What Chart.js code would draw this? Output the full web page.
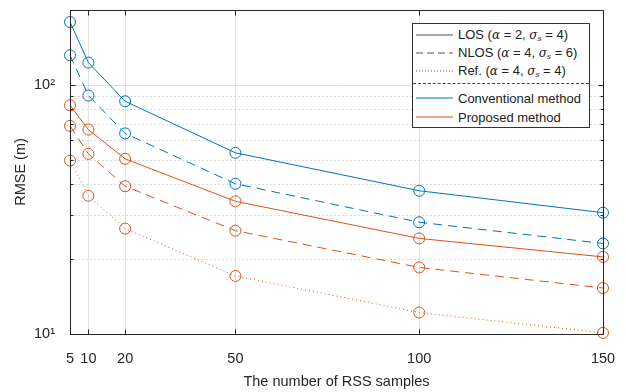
<!DOCTYPE html>
<html>
<head>
<meta charset="utf-8">
<script src="https://cdn.jsdelivr.net/npm/chart.js@4/dist/chart.umd.min.js"></script>
<style>
  html, body { margin:0; padding:0; background:#fff; }
  #wrap { position:relative; width:626px; height:392px; }
  #legend {
    position:absolute; left:412px; top:23px; width:176px; height:103px;
    border:1px solid #333; background:#fff; box-sizing:content-box;
    font-family:"Liberation Sans", Arial, sans-serif; font-size:13px; color:#222;
  }
  .row { position:absolute; left:0; height:18px; display:flex; align-items:center; }
  .row svg { margin-left:3px; margin-right:5px; }
  .divider { position:absolute; left:0; right:0; top:59px; border-top:1px dashed #444; }
  sub { font-size:8px; vertical-align:-2px; }
  i { font-family:"DejaVu Serif", serif; font-size:12px; }
  sub i { font-size:8px; }
</style>
</head>
<body>
<div id="wrap">
  <canvas id="chart" width="626" height="392"></canvas>
  <div id="legend"></div>
</div>
<script>
// ===== DATA =====
const SAMPLES = [5, 10, 20, 50, 100, 150];
const conv_los  = [179, 123, 86, 53.4, 37.6, 30.7];
const conv_nlos = [131.6, 90.7, 63.9, 40.1, 28.1, 23.1];
const prop_los  = [82.9, 66.2, 50.5, 34.1, 24.2, 20.4];
const prop_nlos = [68.5, 52.9, 39.2, 26.0, 18.5, 15.3];
const prop_ref  = [49.7, 35.9, 26.5, 17.1, 12.2, 10.1];

const X_TICKS = [5, 10, 20, 50, 100, 150];
const Y_TICKS = [10, 20, 30, 40, 50, 60, 70, 80, 90, 100, 200];
const Y_LABELS = { 10: '10¹', 100: '10²' };

const BLUE = '#0072BD', ORANGE = '#D95319';
const FONT = '"Liberation Sans", Arial, sans-serif';

function series(vals, color, dash) {
  return {
    data: SAMPLES.map((x, i) => ({ x, y: vals[i] })),
    borderColor: color, borderWidth: 1, borderDash: dash,
    pointStyle: 'circle', pointRadius: 5.5, pointBorderWidth: 1,
    pointBorderColor: color, pointBackgroundColor: 'rgba(0,0,0,0)',
    tension: 0, clip: false, fill: false
  };
}

// grid, box and inside ticks (MATLAB look)
const axesBox = {
  id: 'axesBox',
  beforeDatasetsDraw(chart) {
    const { ctx, chartArea: a, scales: { x, y } } = chart;
    ctx.save();
    ctx.lineWidth = 1;
    ctx.strokeStyle = '#e3e3e3';
    X_TICKS.forEach(v => {
      const px = Math.round(x.getPixelForValue(v)) + 0.5;
      ctx.beginPath(); ctx.moveTo(px, a.top); ctx.lineTo(px, a.bottom); ctx.stroke();
    });
    Y_TICKS.forEach(v => {
      const py = Math.round(y.getPixelForValue(v)) + 0.5;
      const major = Y_LABELS[v] !== undefined;
      ctx.setLineDash(major ? [] : [2, 2]);
      ctx.strokeStyle = major ? '#e3e3e3' : '#dadada';
      ctx.beginPath(); ctx.moveTo(a.left, py); ctx.lineTo(a.right, py); ctx.stroke();
    });
    ctx.restore();
  },
  afterDatasetsDraw(chart) {
    const { ctx, chartArea: a, scales: { x, y } } = chart;
    ctx.save();
    ctx.lineWidth = 1;
    ctx.strokeStyle = '#262626';
    const L = Math.round(a.left) + 0.5, R = Math.round(a.right) + 0.5;
    const T = Math.round(a.top) + 0.5, B = Math.round(a.bottom) + 0.5;
    ctx.strokeRect(L, T, R - L, B - T);
    ctx.beginPath();
    X_TICKS.forEach(v => {
      const px = Math.round(x.getPixelForValue(v)) + 0.5;
      ctx.moveTo(px, B); ctx.lineTo(px, B - 5);
      ctx.moveTo(px, T); ctx.lineTo(px, T + 5);
    });
    Y_TICKS.forEach(v => {
      const py = Math.round(y.getPixelForValue(v)) + 0.5;
      const len = Y_LABELS[v] !== undefined ? 5 : 3;
      ctx.moveTo(L, py); ctx.lineTo(L + len, py);
      ctx.moveTo(R, py); ctx.lineTo(R - len, py);
    });
    ctx.stroke();
    ctx.restore();
  }
};

new Chart(document.getElementById('chart'), {
  type: 'line',
  data: {
    datasets: [
      series(conv_los, BLUE, []),
      series(conv_nlos, BLUE, [9, 6]),
      series(prop_los, ORANGE, []),
      series(prop_nlos, ORANGE, [9, 6]),
      series(prop_ref, ORANGE, [1, 3])
    ]
  },
  options: {
    responsive: false,
    animation: false,
    layout: { padding: { top: 10, right: 23, left: 0, bottom: 0 } },
    plugins: { legend: { display: false }, tooltip: { enabled: false } },
    scales: {
      x: {
        type: 'linear', min: 5, max: 150,
        afterBuildTicks: s => { s.ticks = X_TICKS.map(v => ({ value: v })); },
        afterFit: s => { s.height = 58; },
        grid: { display: false }, border: { display: false },
        ticks: { autoSkip: false, maxRotation: 0, padding: 8, color: '#262626',
                 font: { family: FONT, size: 14.5 } },
        title: { display: true, text: 'The number of RSS samples', color: '#262626',
                 font: { family: FONT, size: 14.5 }, padding: { top: 0, bottom: 1 } }
      },
      y: {
        type: 'logarithmic', min: 10, max: 200,
        afterBuildTicks: s => { s.ticks = Y_TICKS.map(v => ({ value: v })); },
        afterFit: s => { s.width = 70; s.paddingTop = 0; s.paddingBottom = 0; },
        grid: { display: false }, border: { display: false },
        ticks: { autoSkip: false, padding: 7, color: '#262626',
                 font: { family: FONT, size: 14.5 },
                 callback: v => Y_LABELS[v] || '' },
        title: { display: true, text: 'RMSE (m)', color: '#262626',
                 font: { family: FONT, size: 14.5 }, padding: { top: 12, bottom: 0 } }
      }
    }
  },
  plugins: [axesBox]
});

// legend
const LEGEND = [
  { top: 2,  color: '#555', dash: '',    html: 'LOS (<i>α</i> = 2, <i>σ</i><sub><i>s</i></sub> = 4)' },
  { top: 20, color: '#555', dash: '7,4', html: 'NLOS (<i>α</i> = 4, <i>σ</i><sub><i>s</i></sub> = 6)' },
  { top: 38, color: '#555', dash: '1,2', html: 'Ref. (<i>α</i> = 4, <i>σ</i><sub><i>s</i></sub> = 4)' },
  { top: 65, color: BLUE,   dash: '',    html: 'Conventional method' },
  { top: 84, color: ORANGE, dash: '',    html: 'Proposed method' }
];
const leg = document.getElementById('legend');
leg.innerHTML = LEGEND.map(r => `
  <div class="row" style="top:${r.top}px">
    <svg width="37" height="4"><line x1="0" y1="2" x2="37" y2="2" stroke="${r.color}" stroke-width="1" stroke-dasharray="${r.dash}"/></svg>
    <span>${r.html}</span>
  </div>`).join('') + '<div class="divider"></div>';
</script>
</body>
</html>
